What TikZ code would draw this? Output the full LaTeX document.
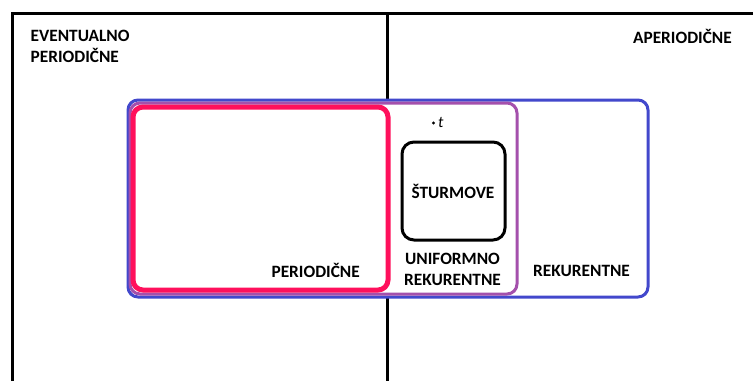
\documentclass[tikz,border=0pt]{standalone}
\usepackage{fontspec}
\setmainfont{Carlito}
\definecolor{setblue}{RGB}{66,72,204}
\definecolor{setred}{RGB}{255,16,92}
\definecolor{setpurple}{RGB}{164,80,172}
\begin{document}
\begin{tikzpicture}[x=1pt,y=-1pt,
  frame/.style={line width=3pt},
  setbox/.style={rectangle,rounded corners=10pt,fill=white,inner sep=0pt},
  lbl/.style={font=\bfseries\fontsize{17.3}{20.5}\selectfont,inner sep=0pt,align=center}]
\useasboundingbox (0,0) rectangle (753,381);
\coordinate (tl) at (12,13);
\coordinate (tr) at (753,13);
\coordinate (bl) at (12,381);
\coordinate (mt) at (387,13);
\coordinate (mb) at (387,381);
\draw[frame] (bl) -- (tl) -- (tr);
\draw[frame] (mt) -- (mb);
\node[setbox,draw=setblue,line width=3pt,minimum width=520pt,minimum height=197pt] (rek) at (388,198.5) {};
\node[setbox,draw=setpurple,line width=3pt,minimum width=387pt,minimum height=191pt] (uni) at (323.5,198.5) {};
\node[setbox,draw=setred,line width=5pt,minimum width=255pt,minimum height=183pt] (per) at (260.5,198.5) {};
\node[setbox,draw=black,line width=3pt,rounded corners=12pt,minimum width=103pt,minimum height=98pt] (stu) at (453.5,191) {};
\node[lbl,align=left,anchor=base west] (ev) at (30.5,62) {EVENTUALNO\\PERIODIČNE};
\node[lbl,anchor=base east] (ap) at (732,43) {APERIODIČNE};
\node[lbl,anchor=base] (stut) at (453,198) {ŠTURMOVE};
\node[lbl,anchor=base] (unit) at (452.5,285) {UNIFORMNO\\REKURENTNE};
\node[lbl,anchor=base east] (pert) at (360,277) {PERIODIČNE};
\node[lbl,anchor=base west] (rekt) at (533,276) {REKURENTNE};
\fill (433.5,123) circle (1.7pt) coordinate (dot);
\node[font=\itshape\fontsize{16}{18}\selectfont,anchor=base west,inner sep=0pt] (t) at (438,127.5) {t};
\end{tikzpicture}
\end{document}
